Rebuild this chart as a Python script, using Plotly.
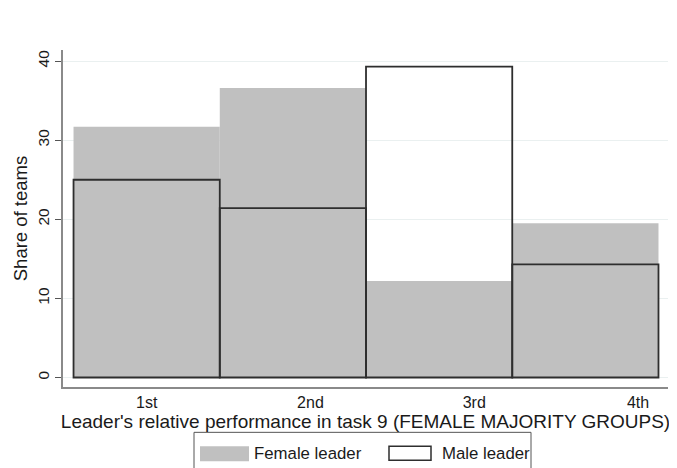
import plotly.graph_objects as go

# ---- data ----
categories = ["1st", "2nd", "3rd", "4th"]
female_share = [31.7, 36.6, 12.2, 19.5]
male_share = [25.0, 21.4, 39.3, 14.3]
series_names = ["Female leader", "Male leader"]
y_ticks = [0, 10, 20, 30, 40]

FONT = "Liberation Sans, Arial, sans-serif"
bar_x = list(range(1, len(categories) + 1))

fig = go.Figure()
fig.add_trace(go.Bar(
    x=bar_x, y=female_share, width=1, name=series_names[0],
    marker=dict(color="#c0c0c0", line=dict(width=0)),
    showlegend=False,
))
fig.add_trace(go.Bar(
    x=bar_x, y=male_share, width=1, name=series_names[1],
    marker=dict(color="rgba(0,0,0,0)", line=dict(color="#2e2e2e", width=1.8)),
    showlegend=False,
))

# tick label positions (Stata-like spread of labels)
tick_pos = [1 + i * 1.12 for i in range(len(categories))]

# page has an 8px body margin -> figure is offset by 8px
OFF = 8
W, H = 677 - OFF, 468 - OFF
PL, PR, PT, PB = 63, 668, 50, 386.7  # plot area in page pixels

fig.update_layout(
    width=W, height=H,
    margin=dict(l=PL - OFF, r=W - (PR - OFF), t=PT - OFF, b=H - (PB - OFF), pad=0),
    paper_bgcolor="white", plot_bgcolor="white",
    barmode="overlay",
    font=dict(family=FONT, color="#1a1a1a"),
    xaxis=dict(
        range=[0.428, 4.565], automargin=False,
        tickmode="array", tickvals=tick_pos, ticktext=categories,
        ticks="", showgrid=False, zeroline=False,
        showline=True, linecolor="#8a8a8a", linewidth=1.5,
        tickfont=dict(size=16, family=FONT, color="#1a1a1a"),
        title=dict(text="Leader's relative performance in task 9 (FEMALE MAJORITY GROUPS)",
                   font=dict(size=19, family=FONT, color="#1a1a1a"), standoff=0),
    ),
    yaxis=dict(
        range=[-1.2, 41.4], automargin=False,
        tickmode="array", tickvals=y_ticks, ticktext=[str(v) for v in y_ticks],
        tickangle=-90,
        ticks="outside", ticklen=6, tickcolor="#555555", tickwidth=1,
        showgrid=True, gridcolor="#eaf0f0", gridwidth=1.2,
        zeroline=False,
        showline=True, linecolor="#8a8a8a", linewidth=1.5,
        tickfont=dict(size=15.5, family=FONT, color="#1a1a1a"),
        title=dict(text="Share of teams", font=dict(size=18.5, family=FONT, color="#1a1a1a"),
                   standoff=3),
    ),
)

# ---- manual Stata-style legend (paper coords) ----
def px_x(px):
    return (px - PL) / (PR - PL)

def px_y(py):
    return (PB - py) / (PB - PT)

shapes = [
    dict(type="rect", xref="paper", yref="paper",
         x0=px_x(194), x1=px_x(531), y0=px_y(475), y1=px_y(432),
         line=dict(color="#555555", width=1), fillcolor="white", layer="above"),
    dict(type="rect", xref="paper", yref="paper",
         x0=px_x(200), x1=px_x(249), y0=px_y(461), y1=px_y(446),
         line=dict(width=0), fillcolor="#c0c0c0", layer="above"),
    dict(type="rect", xref="paper", yref="paper",
         x0=px_x(389), x1=px_x(431), y0=px_y(460), y1=px_y(446),
         line=dict(color="#2e2e2e", width=1.5), fillcolor="white", layer="above"),
]
fig.update_layout(shapes=shapes)

fig.add_annotation(text=series_names[0], xref="paper", yref="paper",
                   x=px_x(252), y=px_y(453.5), xanchor="left", yanchor="middle",
                   showarrow=False, font=dict(size=16.8, family=FONT, color="#1a1a1a"))
fig.add_annotation(text=series_names[1], xref="paper", yref="paper",
                   x=px_x(440), y=px_y(453.5), xanchor="left", yanchor="middle",
                   showarrow=False, font=dict(size=16.8, family=FONT, color="#1a1a1a"))

fig.write_html("out.html")
